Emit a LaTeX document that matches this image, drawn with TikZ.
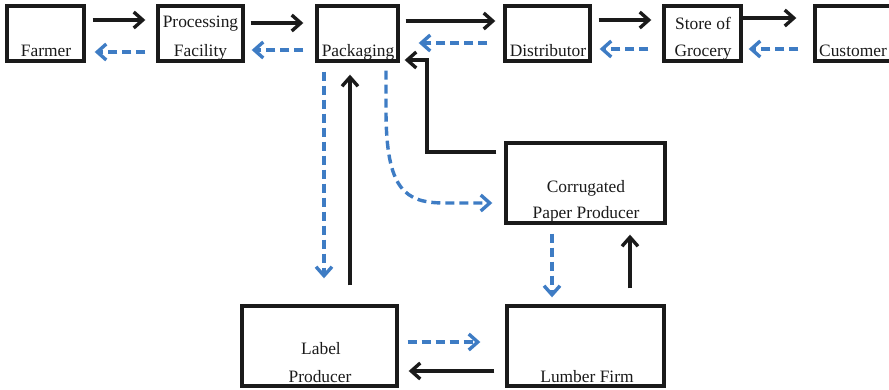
\documentclass[tikz,border=0pt]{standalone}
\usepackage{fontspec}
\setmainfont{Liberation Serif}
\usetikzlibrary{arrows.meta,calc}
\definecolor{flowblue}{RGB}{62,124,196}
\definecolor{ink}{RGB}{26,26,26}
\begin{document}
\begin{tikzpicture}[x=1pt,y=-1pt,
  box/.style={draw=ink, line width=3.4pt, inner sep=0pt, minimum height=55pt},
  bigbox/.style={box, minimum height=80pt},
  txt/.style={font=\fontsize{17.4}{20}\selectfont, text=ink, anchor=base, inner sep=0pt},
  tip/.style={-{Straight Barb[length=9pt,width=16pt]}},
  goods/.style={draw=ink, line width=3.4pt, tip},
  info/.style={draw=flowblue, line width=3.4pt, dash pattern=on 9pt off 5pt, tip},
]
\useasboundingbox (0,0) rectangle (889,389);
\clip (0,0) rectangle (889,389);

% supply chain boxes
\node[box, minimum width=77pt] (farmer) at (45.5,33.5) {};
\node[box, minimum width=85pt] (proc)   at (200.5,33.5) {};
\node[box, minimum width=81pt] (pack)   at (357.5,33.5) {};
\node[box, minimum width=85pt] (dist)   at (547.5,33.5) {};
\node[box, minimum width=77pt] (store)  at (702.5,33.5) {};
\node[box, minimum width=78pt] (cust)   at (854,33.5) {};
\node[bigbox, minimum width=159pt] (corr)   at (585.5,183) {};
\node[bigbox, minimum width=155pt] (label)  at (319.5,346) {};
\node[bigbox, minimum width=157pt] (lumber) at (585.5,346) {};

% labels
\node[txt] (tFarmer) at (46,56) {Farmer};
\node[txt] (tProc1) at (200.5,27.5) {Processing};
\node[txt] (tProc2) at (200.5,56) {Facility};
\node[txt] (tPack) at (358,56) {Packaging};
\node[txt] (tDist) at (548,56) {Distributor};
\node[txt] (tStore1) at (703,29) {Store of};
\node[txt] (tStore2) at (703,56) {Grocery};
\node[txt] (tCust) at (853,56) {Customer};
\node[txt] (tCorr1) at (586,192) {Corrugated};
\node[txt] (tCorr2) at (586,218) {Paper Producer};
\node[txt] (tLabel1) at (321,354) {Label};
\node[txt] (tLabel2) at (320,382) {Producer};
\node[txt] (tLumber) at (587,382) {Lumber Firm};

% goods flow (solid)
\draw[goods] ($(farmer.east|-0,20)+(7,0)$) -- ($(proc.west|-0,20)+(-11,0)$);
\draw[goods] ($(proc.east|-0,23)+(6,0)$) -- ($(pack.west|-0,23)+(-12,0)$);
\draw[goods] ($(pack.east|-0,21)+(6,0)$) -- ($(dist.west|-0,21)+(-8,0)$);
\draw[goods] ($(dist.east|-0,20)+(7,0)$) -- ($(store.west|-0,20)+(-11,0)$);
\draw[goods] (store.east|-0,18) -- ($(cust.west|-0,18)+(-17,0)$);
\draw[goods] ($(label.north-|350,0)+(0,-19)$) -- ($(pack.south-|350,0)+(0,12)$);
\draw[goods] ($(corr.west|-0,152)+(-8,0)$) -- (427,152) -- (427,60) -- ($(pack.east|-0,60)+(5,0)$);
\draw[goods] ($(lumber.north-|630,0)+(0,-16)$) -- ($(corr.south-|630,0)+(0,10)$);
\draw[goods] ($(lumber.west|-0,371)+(-11,0)$) -- ($(label.east|-0,371)+(10,0)$);

% information flow (dashed)
\draw[info] ($(proc.west|-0,52)+(-11,0)$) -- ($(farmer.east|-0,52)+(9,0)$);
\draw[info] ($(pack.west|-0,50)+(-12,0)$) -- ($(proc.east|-0,50)+(7,0)$);
\draw[info] ($(dist.west|-0,43)+(-16,0)$) -- ($(pack.east|-0,43)+(19,0)$);
\draw[info] ($(store.west|-0,49)+(-14,0)$) -- ($(dist.east|-0,49)+(8,0)$);
\draw[info] ($(cust.west|-0,49)+(-15,0)$) -- ($(store.east|-0,49)+(6,0)$);
\draw[info] ($(pack.south-|324,0)+(0,9)$) -- ($(label.north-|324,0)+(0,-26)$);
\draw[info] ($(pack.south-|386,0)+(0,8)$) -- (386,110)
  .. controls (386,190) and (405,203) .. (445,203) -- ($(corr.west|-0,203)+(-12,0)$);
\draw[info] ($(corr.south-|552,0)+(0,9)$) -- ($(lumber.north-|552,0)+(0,-7)$);
\draw[info] ($(label.east|-0,342)+(9,0)$) -- ($(lumber.west|-0,342)+(-25,0)$);
\end{tikzpicture}
\end{document}
